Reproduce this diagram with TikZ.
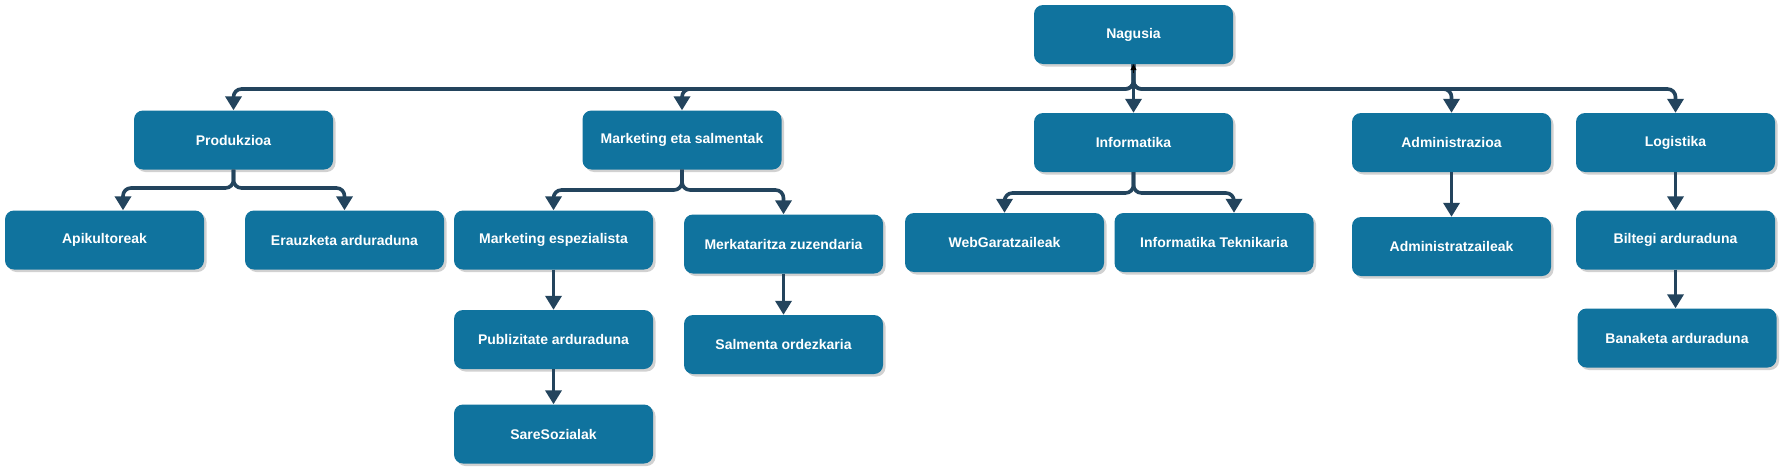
\documentclass[tikz,border=0pt]{standalone}
\usepackage{fontspec}
\setmainfont{Liberation Sans}
\usetikzlibrary{arrows.meta,shadows}
\definecolor{boxblue}{HTML}{10739E}
\definecolor{linenavy}{HTML}{23445D}
\tikzset{
  orgbox/.style={draw=none, fill=boxblue, rounded corners=9pt,
    minimum width=199pt, minimum height=59pt, inner sep=0pt,
    text=white, font=\fontsize{14}{16}\selectfont\bfseries,
    drop shadow={shadow xshift=2.5pt, shadow yshift=-2.5pt, fill=black, opacity=0.18}},
  conn/.style={draw=linenavy, line width=3.6pt, rounded corners=8pt,
    -{Triangle[length=14pt,width=16pt]}},
}
\begin{document}
\begin{tikzpicture}[x=1pt,y=-1pt]
\useasboundingbox[fill=white] (0,0) rectangle (1784,471);
% nodes
\node[orgbox] (nag)   at (1133.5,34.5) {Nagusia};
\node[orgbox] (prod)  at (233.5,140)   {Produkzioa};
\node[orgbox] (mark)  at (682,140)     {Marketing eta salmentak};
\node[orgbox] (info)  at (1133.5,142.5){Informatika};
\node[orgbox] (admin) at (1451.5,142.5){Administrazioa};
\node[orgbox] (logi)  at (1675.5,142.5){Logistika};
\node[orgbox] (api)   at (104.5,240)   {Apikultoreak};
\node[orgbox] (erauz) at (344.5,240)   {Erauzketa arduraduna};
\node[orgbox] (mesp)  at (553.5,240)   {Marketing espezialista};
\node[orgbox] (merk)  at (783.5,244)   {Merkataritza zuzendaria};
\node[orgbox] (web)   at (1004.5,242.5){WebGaratzaileak};
\node[orgbox] (itek)  at (1214,242.5)  {Informatika Teknikaria};
\node[orgbox] (adm2)  at (1451.5,246.5){Administratzaileak};
\node[orgbox] (bilt)  at (1675.5,240)  {Biltegi arduraduna};
\node[orgbox] (publ)  at (553.5,339.5) {Publizitate arduraduna};
\node[orgbox] (salm)  at (783.5,344.5) {Salmenta ordezkaria};
\node[orgbox] (bana)  at (1677,338)    {Banaketa arduraduna};
\node[orgbox] (sare)  at (553.5,434)   {SareSozialak};
% helper coordinates
\coordinate (bus)  at (0,89);
\coordinate (busP) at (0,188);
\coordinate (busM) at (0,190);
\coordinate (busI) at (0,193);
\coordinate (apiin)  at ([xshift=18.5pt]api.north);
\coordinate (itekin) at ([xshift=20pt]itek.north);
% level 1
\draw[conn] (nag.south) |- (prod.north |- bus) -- (prod.north);
\draw[conn] (nag.south) |- (mark.north |- bus) -- (mark.north);
\draw[conn] (nag.south) -- (info.north);
\draw[conn] (nag.south) |- (admin.north |- bus) -- (admin.north);
\draw[conn] (nag.south) |- (logi.north |- bus) -- (logi.north);
\draw[black, line width=1pt, -{Triangle[length=6pt,width=6pt]}] ([yshift=-9pt]nag.south) -- (nag.south);
% level 2
\draw[conn] (prod.south) |- (apiin |- busP) -- (apiin);
\draw[conn] (prod.south) |- (erauz.north |- busP) -- (erauz.north);
\draw[conn] (mark.south) |- (mesp.north |- busM) -- (mesp.north);
\draw[conn] (mark.south) |- (merk.north |- busM) -- (merk.north);
\draw[conn] (info.south) |- (web.north |- busI) -- (web.north);
\draw[conn] (info.south) |- (itekin |- busI) -- (itekin);
\draw[conn] (admin.south) -- (adm2.north);
\draw[conn] (logi.south) -- (bilt.north);
% level 3
\draw[conn] (mesp.south) -- (publ.north);
\draw[conn] (publ.south) -- (sare.north);
\draw[conn] (merk.south) -- (salm.north);
\draw[conn] (bilt.south) -- (bana.north -| bilt.south);
\end{tikzpicture}
\end{document}
